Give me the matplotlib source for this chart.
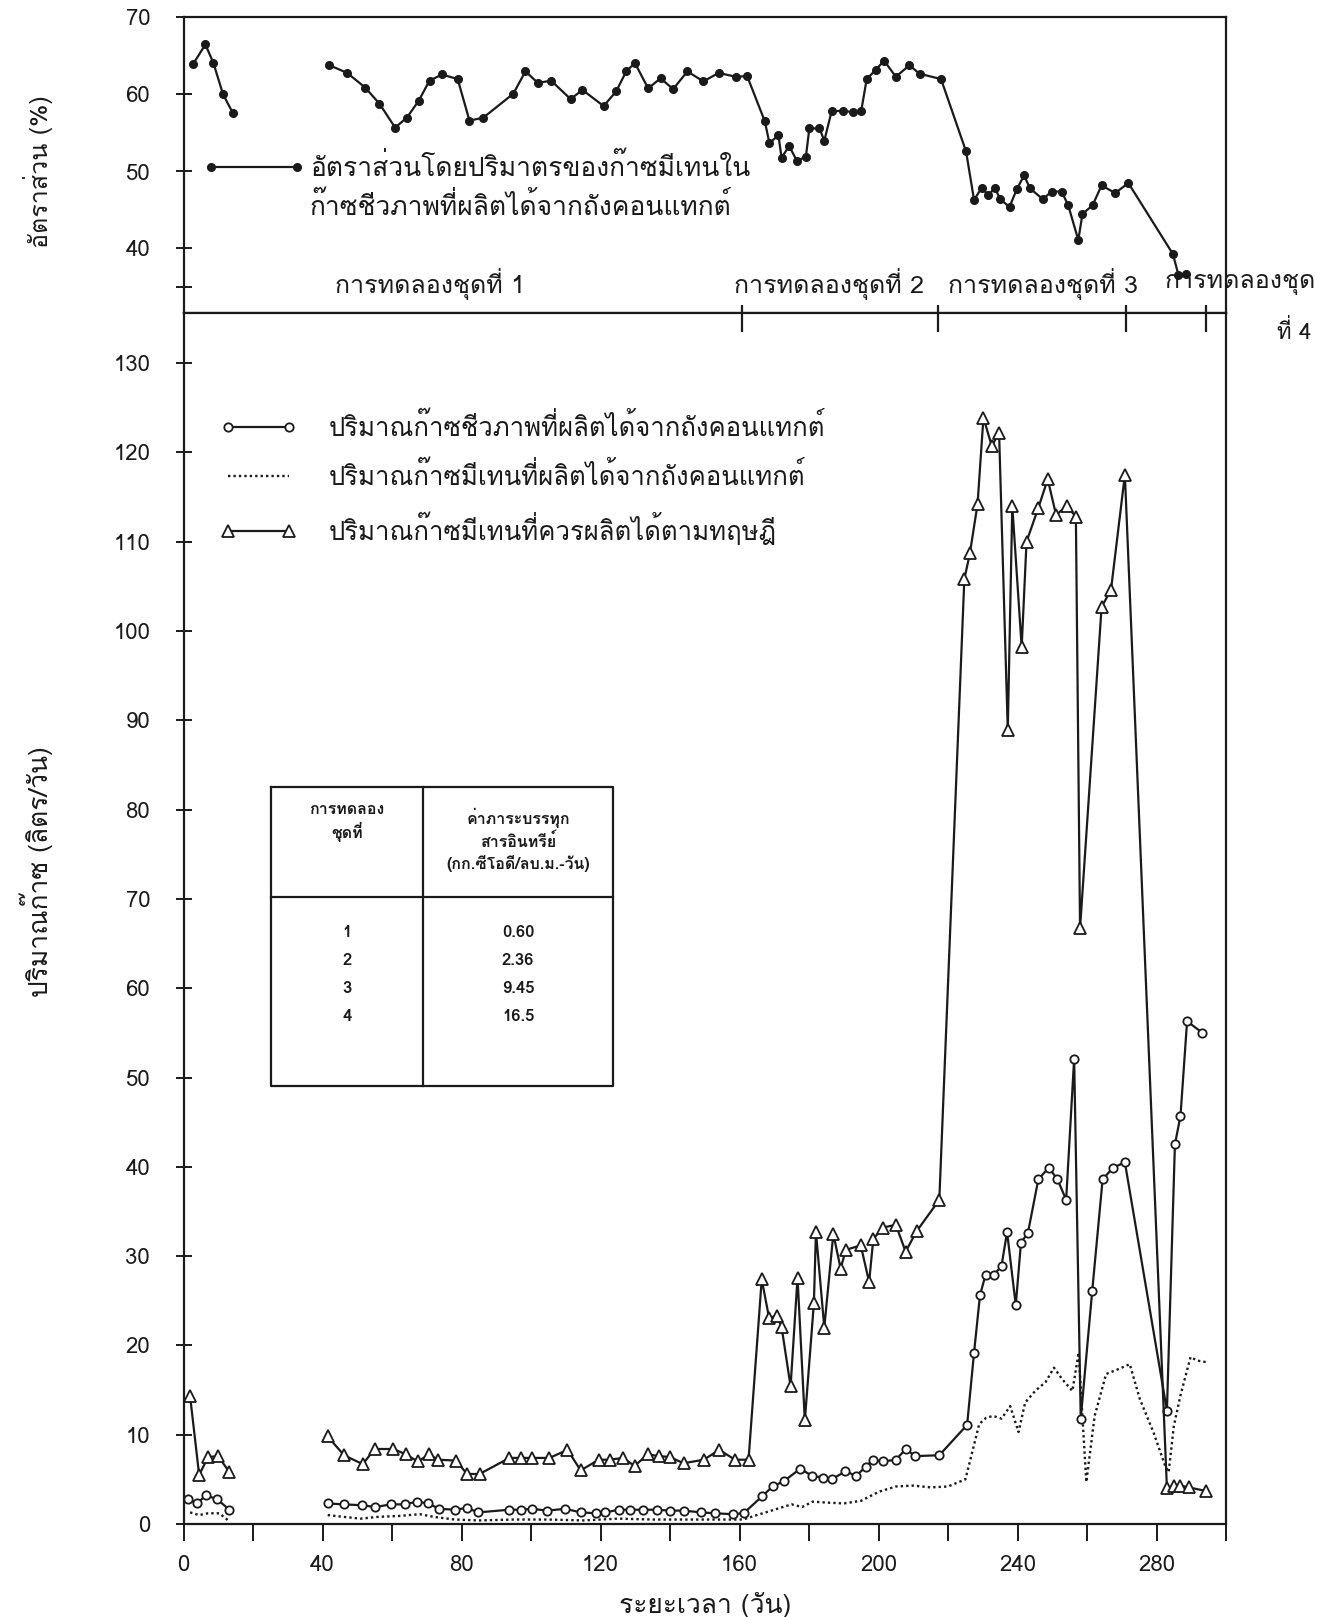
import matplotlib
matplotlib.use('Agg')
import matplotlib.pyplot as plt
import matplotlib.transforms as mtransforms
from matplotlib import font_manager
from matplotlib.ft2font import FT2Font
from matplotlib.lines import Line2D


# หาฟอนต์ที่มีอักษรไทย
def find_thai_font():
    for f in font_manager.fontManager.ttflist:
        try:
            if 0x0E01 in FT2Font(f.fname).get_charmap():
                return f.name
        except Exception:
            pass
    return 'DejaVu Sans'


THAI = find_thai_font()
plt.rcParams['font.family'] = [THAI, 'DejaVu Sans']

# --- ข้อมูล: อัตราส่วนมีเทน (%) ---
ratio_day_1 = [2.7, 6.3, 8.6, 11.4, 14.2]
ratio_val_1 = [63.9, 66.5, 64.1, 60.0, 57.6]
ratio_day_2 = [42, 47.1, 52.3, 56.4, 60.9, 64.3, 67.7, 70.8, 74.4, 78.9,
               82.3, 86.3, 94.9, 98.4, 102, 105.8, 111.4, 114.8, 120.9, 124.5,
               127.4, 129.9, 133.7, 137.3, 140.9, 145, 149.6, 154, 159, 162.2,
               167.3, 168.6, 171.2, 172.1, 174.3, 176.5, 179.1, 180.1, 183, 184.4,
               186.5, 189.7, 192.6, 195, 196.6, 199.2, 201.6, 205, 208.9, 211.8,
               218, 225.2, 227.5, 229.7, 231.6, 233.5, 235, 237.7, 239.8, 241.9,
               243.6, 247.3, 249.8, 252.7, 254.6, 257.5, 258.7, 261.6, 264.2, 268.1,
               271.9, 284.7, 286.3, 288.5]
ratio_val_2 = [63.8, 62.8, 60.9, 58.8, 55.7, 57.0, 59.2, 61.8, 62.6, 62.0,
               56.6, 57.0, 60.1, 63.0, 61.5, 61.8, 59.4, 60.6, 58.5, 60.4,
               63.0, 64.1, 60.8, 62.1, 60.7, 63.0, 61.7, 62.8, 62.3, 62.4,
               56.5, 53.7, 54.7, 51.8, 53.3, 51.4, 51.9, 55.6, 55.6, 54.0,
               57.8, 57.9, 57.7, 57.8, 62.0, 63.2, 64.4, 62.3, 63.8, 62.7,
               62.0, 52.6, 46.3, 47.9, 46.9, 47.9, 46.4, 45.4, 47.7, 49.5,
               47.8, 46.4, 47.4, 47.4, 45.6, 41.1, 44.5, 45.6, 48.2, 47.2,
               48.5, 39.3, 36.6, 36.7]

# --- ก๊าซชีวภาพ (วงกลม) ---
biogas_day_1 = [1.3, 3.9, 6.4, 9.6, 13.2]
biogas_val_1 = [2.8, 2.3, 3.2, 2.8, 1.6]
biogas_day_2 = [41.5, 46.2, 51.4, 55.2, 59.7, 63.6, 67.2, 70.4, 73.6, 78.1,
                81.6, 84.8, 93.8, 97.0, 100.2, 104.7, 109.8, 114.3, 118.8, 121.4,
                125.3, 128.5, 132.3, 136.2, 140.0, 143.9, 149.0, 152.9, 158.0, 161.2,
                166.5, 169.5, 172.8, 177.5, 180.8, 184.0, 186.5, 190.5, 193.5, 196.4,
                198.3, 201.2, 205.0, 207.9, 210.5, 217.5, 225.5, 227.5, 229.2, 230.8,
                233.2, 235.4, 237.0, 239.5, 241.0, 243.0, 246.0, 249.0, 251.5, 254.0,
                256.3, 258.2, 261.5, 264.5, 267.5, 270.9, 283.0, 285.3, 286.9, 288.8,
                293.2]
biogas_val_2 = [2.3, 2.2, 2.1, 1.9, 2.2, 2.2, 2.5, 2.3, 1.7, 1.6,
                1.8, 1.3, 1.6, 1.6, 1.7, 1.5, 1.7, 1.3, 1.2, 1.3,
                1.6, 1.6, 1.6, 1.6, 1.5, 1.5, 1.3, 1.2, 1.1, 1.2,
                3.1, 4.2, 4.8, 6.2, 5.4, 5.2, 5.0, 5.9, 5.4, 6.4,
                7.2, 7.0, 7.2, 8.4, 7.6, 7.7, 11.1, 19.2, 25.6, 27.9,
                27.9, 28.9, 32.7, 24.5, 31.5, 32.6, 38.6, 39.9, 38.6, 36.3,
                52.1, 11.8, 26.1, 38.6, 39.9, 40.5, 12.7, 42.5, 45.7, 56.3,
                55.0]

# --- มีเทนที่ผลิตได้ (เส้นประ) ---
methane_day_1 = [1.9, 4.5, 7.1, 10.3, 13.2]
methane_val_1 = [1.3, 1.0, 1.2, 1.2, 0.3]
methane_day_2 = [41.5, 46, 51, 56, 62, 68, 72, 78, 85, 95,
                 105, 115, 125, 135, 145, 155, 161, 165, 170, 175,
                 178, 181, 185, 190, 195, 200, 205, 210, 215, 220,
                 225, 229, 231, 233, 235.4, 237.9, 240.3, 242.2, 245.1, 248.1,
                 250.5, 252.9, 255.8, 257.6, 259.8, 262.2, 265.5, 269.4, 272.3, 275.2,
                 279.1, 282.5, 283.5, 285, 286.9, 289.8, 291.7, 294.7]
methane_val_2 = [1.0, 0.8, 0.6, 0.8, 0.9, 1.1, 0.8, 0.5, 0.4, 0.5,
                 0.5, 0.4, 0.6, 0.5, 0.5, 0.5, 0.5, 1.0, 1.6, 2.2,
                 1.9, 2.5, 2.4, 2.3, 2.6, 3.6, 4.2, 4.3, 4.1, 4.2,
                 5.0, 11.2, 11.9, 12.1, 11.8, 13.2, 10.3, 13.6, 14.9, 15.9,
                 17.5, 16.2, 14.9, 19.2, 4.7, 12.1, 16.8, 17.4, 17.9, 14.0,
                 10.3, 6.5, 5.8, 11.0, 14.4, 18.7, 18.3, 18.1]

# --- มีเทนตามทฤษฎี (สามเหลี่ยม) ---
theory_day_1 = [1.9, 4.5, 7.1, 10.0, 13.2]
theory_val_1 = [14.3, 5.5, 7.5, 7.6, 5.8]
theory_day_2 = [41.5, 46.2, 51.6, 55.0, 60.4, 64.0, 67.4, 70.7, 73.2, 78.4,
                81.6, 85.2, 93.8, 97.0, 100.2, 105.3, 110.5, 114.3, 119.5, 122.7,
                126.5, 129.8, 133.6, 136.8, 140.0, 143.9, 149.7, 154.2, 158.7, 162.6,
                166.4, 168.5, 170.7, 172.1, 174.7, 176.7, 178.8, 181.4, 182.0, 184.4,
                187.0, 189.1, 190.6, 194.9, 197.3, 198.5, 201.2, 205.0, 207.8, 211.0,
                217.5, 224.7, 226.3, 228.5, 230.2, 232.6, 234.7, 237.2, 238.5, 241.2,
                242.6, 246.0, 248.7, 251.1, 254.2, 256.8, 258.0, 264.2, 266.9, 270.9,
                283.0, 285.0, 286.9, 289.3, 294.2]
theory_val_2 = [9.8, 7.7, 6.7, 8.4, 8.4, 7.8, 7.0, 7.8, 7.2, 7.1,
                5.6, 5.6, 7.4, 7.4, 7.4, 7.4, 8.3, 6.0, 7.2, 7.2,
                7.4, 6.5, 7.8, 7.6, 7.5, 6.8, 7.2, 8.3, 7.2, 7.2,
                27.4, 23.1, 23.3, 22.1, 15.4, 27.6, 11.6, 24.7, 32.7, 22.0,
                32.5, 28.6, 30.7, 31.2, 27.1, 31.9, 33.2, 33.5, 30.5, 32.8,
                36.3, 105.8, 108.7, 114.2, 123.9, 120.7, 122.2, 88.9, 114.0, 98.2,
                110.0, 113.8, 117.0, 113.0, 114.0, 112.8, 66.7, 102.7, 104.6, 117.5,
                4.0, 4.3, 4.3, 4.1, 3.7]

# ขอบเขตการทดลองแต่ละชุด (วัน)
set_bounds = [160.7, 217.1, 271.3, 294.2]
set_label_day = [43.6, 158.5, 220.0, 282.4]
set_labels = ['การทดลองชุดที่ 1', 'การทดลองชุดที่ 2', 'การทดลองชุดที่ 3', 'การทดลองชุด']

# ตารางภาระบรรทุกสารอินทรีย์
table_sets = ['1', '2', '3', '4']
table_rates = ['0.60', '2.36', '9.45', '16.5']

INK = '#1a1a1a'
W, H = 1336, 1617

fig = plt.figure(figsize=(W / 100, H / 100), dpi=100)
fig.patch.set_facecolor('white')

x_left, x_right = 183.5, 1226
y_top, y_mid, y_bot = 17.5, 313, 1524
ax_top = fig.add_axes([x_left / W, 1 - y_mid / H, (x_right - x_left) / W, (y_mid - y_top) / H])
ax_bot = fig.add_axes([x_left / W, 1 - y_bot / H, (x_right - x_left) / W, (y_bot - y_mid) / H])

for ax in (ax_top, ax_bot):
    ax.set_xlim(0, 300)
    for s in ax.spines.values():
        s.set_color(INK)
        s.set_linewidth(1.6)


def top_fy(py):
    return (y_mid - py) / (y_mid - y_top)


# ---------- กราฟบน ----------
ax_top.set_ylim(70 - (y_mid - y_top) / 7.70, 70)
line_kw = dict(color=INK, lw=1.6, marker='o', ms=5.5, mfc=INK, mec=INK)
ax_top.plot(ratio_day_1, ratio_val_1, **line_kw)
ax_top.plot(ratio_day_2, ratio_val_2, **line_kw)
ax_top.set_xticks([])
ax_top.set_yticks([35, 40, 50, 60, 70])
ax_top.set_yticklabels(['', '40', '50', '60', '70'])
ax_top.tick_params(axis='y', direction='inout', length=12, width=1.4,
                   labelsize=16, pad=18, colors=INK)

# คำอธิบายเส้นกราฟบน
ax_top.plot([0.026, 0.109], [top_fy(167)] * 2, transform=ax_top.transAxes, **line_kw)
ax_top.text(0.121, top_fy(167), 'อัตราส่วนโดยปริมาตรของก๊าซมีเทนใน',
            transform=ax_top.transAxes, fontsize=19, va='center', ha='left', color=INK)
ax_top.text(0.121, top_fy(206), 'ก๊าซชีวภาพที่ผลิตได้จากถังคอนแทกต์',
            transform=ax_top.transAxes, fontsize=19, va='center', ha='left', color=INK)

for d, lab in zip(set_label_day, set_labels):
    ax_top.text(d, 35.4, lab, fontsize=18, va='center', ha='left', color=INK, clip_on=False)
fig.text(1294 / W, 1 - 332 / H, 'ที่ 4', fontsize=16, ha='center', va='center', color=INK)

fig.text(38 / W, 1 - 172 / H, 'อัตราส่วน (%)', rotation=90, fontsize=18,
         ha='center', va='center', color=INK)

# ---------- กราฟล่าง ----------
ax_bot.set_ylim(0, (y_bot - y_mid) / 8.93)
circ_kw = dict(color=INK, lw=1.6, marker='o', ms=6, mfc='white', mec=INK, mew=1.3)
tri_kw = dict(color=INK, lw=1.6, marker='^', ms=8.5, mfc='white', mec=INK, mew=1.3)
dot_kw = dict(color=INK, lw=1.7, ls=(0, (1, 1.3)))

ax_bot.plot(methane_day_1, methane_val_1, **dot_kw)
ax_bot.plot(methane_day_2, methane_val_2, **dot_kw)
ax_bot.plot(biogas_day_1, biogas_val_1, **circ_kw)
ax_bot.plot(biogas_day_2, biogas_val_2, **circ_kw)
ax_bot.plot(theory_day_1, theory_val_1, **tri_kw)
ax_bot.plot(theory_day_2, theory_val_2, **tri_kw)

ax_bot.set_yticks(range(0, 131, 10))
ax_bot.tick_params(axis='y', direction='inout', length=12, width=1.4,
                   labelsize=16, pad=18, colors=INK)
xt = list(range(0, 301, 20))
ax_bot.set_xticks(xt)
ax_bot.set_xticklabels([str(t) if t % 40 == 0 and t < 300 else '' for t in xt])
ax_bot.tick_params(axis='x', direction='out', length=12, width=1.4,
                   labelsize=16, pad=10, colors=INK)
ax_bot.set_xlabel('ระยะเวลา (วัน)', fontsize=19, labelpad=12, color=INK)

fig.text(36 / W, 1 - 872 / H, 'ปริมาณก๊าซ (ลิตร/วัน)', rotation=90, fontsize=19,
         ha='center', va='center', color=INK)

# เส้นแบ่งชุดการทดลอง
trans = mtransforms.blended_transform_factory(ax_bot.transData, ax_bot.transAxes)
ax_bot.vlines(set_bounds, 0.984, 1.007, transform=trans, color=INK, lw=1.6, clip_on=False)

# คำอธิบายเส้นกราฟล่าง
handles = [
    Line2D([], [], **circ_kw),
    Line2D([], [], **dot_kw),
    Line2D([], [], **tri_kw),
]
labels = ['ปริมาณก๊าซชีวภาพที่ผลิตได้จากถังคอนแทกต์',
          'ปริมาณก๊าซมีเทนที่ผลิตได้จากถังคอนแทกต์',
          'ปริมาณก๊าซมีเทนที่ควรผลิตได้ตามทฤษฎี']
ax_bot.legend(handles, labels, loc='upper left', bbox_to_anchor=(0.035, 0.918),
              numpoints=2, handlelength=3.0, handletextpad=1.25, frameon=False,
              fontsize=18.5, labelspacing=0.82, borderpad=0, borderaxespad=0,
              labelcolor=INK)


# ตาราง (วาดในพิกัดของแกนล่าง)
def fx(px):
    return (px - x_left) / (x_right - x_left)


def fy(py):
    return (y_bot - py) / (y_bot - y_mid)


tb_l, tb_r, tb_c = fx(271), fx(613), fx(423)
tb_t, tb_b, tb_h = fy(787), fy(1086), fy(897)
box = dict(transform=ax_bot.transAxes, color=INK, lw=1.6, clip_on=False)
ax_bot.plot([tb_l, tb_r, tb_r, tb_l, tb_l], [tb_t, tb_t, tb_b, tb_b, tb_t], **box)
ax_bot.plot([tb_c, tb_c], [tb_t, tb_b], **box)
ax_bot.plot([tb_l, tb_r], [tb_h, tb_h], **box)

ax_bot.text((tb_l + tb_c) / 2, fy(822), 'การทดลอง\nชุดที่', transform=ax_bot.transAxes,
            ha='center', va='center', fontsize=11.5, fontweight='bold', linespacing=1.35, color=INK)
ax_bot.text((tb_c + tb_r) / 2, fy(840), 'ค่าภาระบรรทุก\nสารอินทรีย์\n(กก.ซีโอดี/ลบ.ม.-วัน)',
            transform=ax_bot.transAxes, ha='center', va='center', fontsize=11.5,
            fontweight='bold', linespacing=1.35, color=INK)
row_y = [932, 960, 988, 1016]
for s, r, py in zip(table_sets, table_rates, row_y):
    ax_bot.text((tb_l + tb_c) / 2, fy(py), s, transform=ax_bot.transAxes,
                ha='center', va='center', fontsize=12, fontweight='bold', color=INK)
    ax_bot.text((tb_c + tb_r) / 2, fy(py), r, transform=ax_bot.transAxes,
                ha='center', va='center', fontsize=12, fontweight='bold', color=INK)

fig.savefig('out.png', dpi=100, facecolor='white')
